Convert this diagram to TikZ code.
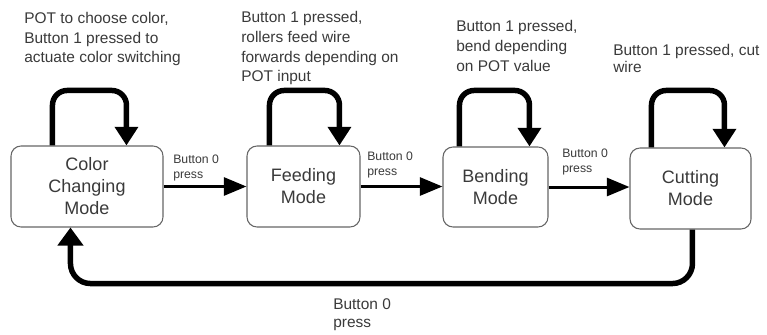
\documentclass[tikz,border=0pt]{standalone}
\usepackage{fontspec}
\setmainfont{Liberation Sans}
\usetikzlibrary{arrows.meta,calc}
\definecolor{txt}{HTML}{3A3A3A}
\definecolor{boxline}{HTML}{666666}
\begin{document}
\begin{tikzpicture}[x=0.75pt,y=-0.75pt,
 mode/.style={draw=boxline, line width=0.8pt, rounded corners=7.5pt, fill=white, align=center, text=txt, font=\fontsize{13.5pt}{16.5pt}\selectfont, inner sep=0pt},
 note/.style={align=left, text=txt, font=\fontsize{11.6pt}{14.8pt}\selectfont, inner sep=0pt, anchor=base west},
 small/.style={align=left, text=txt, font=\fontsize{9.2pt}{11.2pt}\selectfont, inner sep=0pt, anchor=base west},
 harrow/.style={line width=2.25pt, -{Triangle[length=17pt,width=13.5pt]}},
 selfloop/.style={line width=4.1pt, rounded corners=11pt, -{Triangle[length=14pt,width=17pt]}},
]
\useasboundingbox (0,0) rectangle (767,335);
\node[mode, minimum width=114pt, minimum height=60.75pt] (b1) at (87,186.5) {Color\\Changing\\Mode};
\node[mode, minimum width=84.75pt, minimum height=60.75pt] (b2) at (303.5,186.5) {Feeding\\Mode};
\node[mode, minimum width=78.75pt, minimum height=60pt] (b3) at (495.5,187) {Bending\\Mode};
\node[mode, minimum width=90.75pt, minimum height=60.75pt] (b4) at (690.5,188.5) {Cutting\\Mode};

\draw[harrow] (b1.east) -- (b2.west);
\draw[harrow] (b2.east) -- (b2.east -| b3.west);
\draw[harrow] (b3.east) -- (b3.east -| b4.west);

\draw[selfloop] ($(b1.north west)+(42,0)$) -- ++(0,-55) -| ($(b1.north west)+(116,0)$);
\draw[selfloop] ($(b2.north west)+(23,0)$) -- ++(0,-55) -| ($(b2.north west)+(93,0)$);
\draw[selfloop] ($(b3.north west)+(17,0)$) -- ++(0,-56) -| ($(b3.north west)+(87,0)$);
\draw[selfloop] ($(b4.north west)+(22,0)$) -- ++(0,-57) -| ($(b4.north west)+(95,0)$);

\coordinate (bl) at ($(b1.south west)+(60,56)$);
\draw[selfloop, rounded corners=15pt, -{Triangle[length=13.5pt,width=18.75pt]}] ($(b4.south west)+(63,0)$) |- (bl) -- ($(b1.south west)+(60,0)$);

\node[note] (t1) at (24,63) {POT to choose color,\\Button 1 pressed to\\actuate color switching};
\node[note] (t2) at (241,82) {Button 1 pressed,\\rollers feed wire\\forwards depending on\\POT input};
\node[note] (t3) at (456,71) {Button 1 pressed,\\bend depending\\on POT value};
\node[note, font=\fontsize{11.6pt}{13.2pt}\selectfont] (t4) at (613,73) {Button 1 pressed, cut\\wire};

\node[small] (l1) at (173,178) {Button 0\\press};
\node[small] (l2) at (367,175) {Button 0\\press};
\node[small] (l3) at (562,172) {Button 0\\press};
\node[note, font=\fontsize{11.6pt}{12.8pt}\selectfont] (l4) at (333,327) {Button 0\\press};
\end{tikzpicture}
\end{document}
